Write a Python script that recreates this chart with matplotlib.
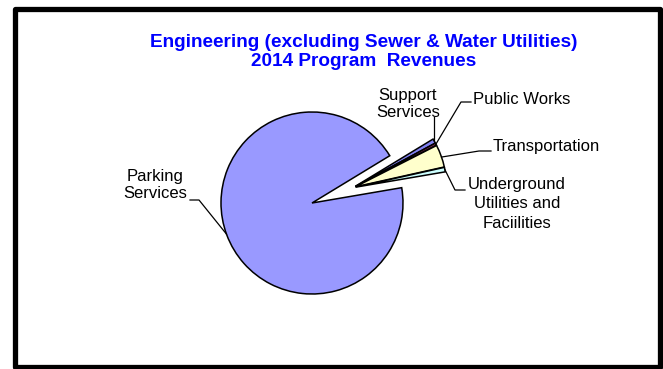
import numpy as np
import matplotlib
matplotlib.use("Agg")
import matplotlib.pyplot as plt
from matplotlib.patches import Rectangle

# 2014 program revenues, percent of total
programs = ["Parking\nServices", "Support\nServices", "Public Works",
            "Transportation", "Underground\nUtilities and\nFaciilities"]
shares = [94.0, 0.8, 0.4, 4.0, 0.8]
colors = ["#9999FF", "#8080F0", "#993366", "#FFFFCC", "#CCFFFF"]
explode = [0.0, 0.48, 0.48, 0.48, 0.48]

W, H = 663, 369
plt.rcParams["font.family"] = ["Liberation Sans", "DejaVu Sans"]
fig = plt.figure(figsize=(W / 100, H / 100), dpi=100, facecolor="white")
ax = fig.add_axes([0, 0, 1, 1])


def Y(y):
    # pixel rows counted from the top
    return H - y


cx, cy, R = 312, Y(203), 91
wedges, _ = ax.pie(shares, colors=colors, startangle=9.7,
                   counterclock=False, center=(cx, cy), radius=R,
                   wedgeprops=dict(edgecolor="black", linewidth=1.1))
ax.set_xlim(0, W); ax.set_ylim(0, H)
ax.set_aspect("equal"); ax.axis("off")

# pull the small slices out together along the group's bisector,
# plus a touch along each slice's own bisector so the edges separate
small = [w for w, e in zip(wedges, explode) if e > 0]
lo = min(min(w.theta1, w.theta2) for w in small)
hi = max(max(w.theta1, w.theta2) for w in small)
g = np.deg2rad(0.5 * (lo + hi))
for w, e in zip(wedges, explode):
    if e == 0:
        continue
    own = np.deg2rad(0.5 * (w.theta1 + w.theta2))
    dx = e * R * np.cos(g) + 0.03 * R * np.cos(own)
    dy = e * R * np.sin(g) + 0.03 * R * np.sin(own)
    w.set_center((cx + dx, cy + dy))


def edge_pt(w, frac=0.5):
    a0, a1 = sorted([w.theta1, w.theta2])
    a = np.deg2rad(a0 + frac * (a1 - a0))
    x0, y0 = w.center
    return x0 + w.r * np.cos(a), y0 + w.r * np.sin(a)


lab = dict(fontsize=12, color="black", linespacing=1.1)
kw = dict(color="black", lw=0.9)

# Parking Services: leader to the left rim
px, py = cx + R * np.cos(np.deg2rad(200)), cy + R * np.sin(np.deg2rad(200))
ax.plot([190, 199, px], [Y(200), Y(200), py], **kw)
ax.text(155, Y(185), programs[0], ha="center", va="center", **lab)

# Support Services: vertical leader
sx, sy = edge_pt(wedges[1])
ax.plot([sx, sx], [sy, Y(117)], **kw)
ax.text(408, Y(104), programs[1], ha="center", va="center", **lab)

# Public Works
wx, wy = edge_pt(wedges[2])
ax.plot([471, 461, wx], [Y(102), Y(102), wy], **kw)
ax.text(473, Y(100), programs[2], ha="left", va="center", **lab)

# Transportation
tx, ty = edge_pt(wedges[3], 0.45)
ax.plot([491, 479, tx], [Y(151), Y(151), ty], **kw)
ax.text(493, Y(147), programs[3], ha="left", va="center", **lab)

# Underground Utilities and Facilities
ux, uy = edge_pt(wedges[4])
ax.plot([465, 455, ux], [Y(190), Y(190), uy], **kw)
ax.text(517, Y(204), programs[4], ha="center", va="center",
        **{**lab, "linespacing": 1.4})

ax.text(364, Y(52), "Engineering (excluding Sewer & Water Utilities)\n"
        "2014 Program  Revenues", ha="center", va="center",
        fontsize=13.7, fontweight="bold", color="#0000FF", linespacing=1.15)

# chart frame
ax.add_patch(Rectangle((14.5, Y(367)), 645.5, 358.5, fill=False,
                       edgecolor="black", linewidth=3.8, joinstyle="round",
                       clip_on=False))

fig.savefig("out.png", dpi=100, facecolor="white")
